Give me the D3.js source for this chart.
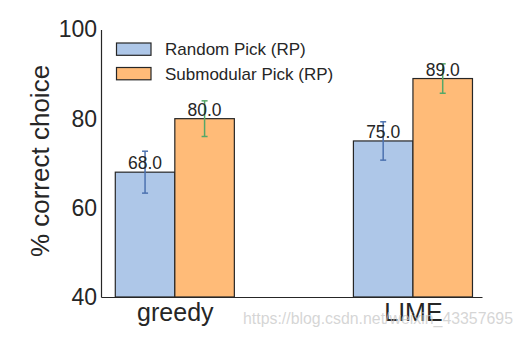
<!DOCTYPE html>
<html><head><meta charset="utf-8">
<script src="https://cdn.jsdelivr.net/npm/d3@7"></script>
<style>body{margin:0;background:#fff}svg{display:block}text{font-family:"Liberation Sans",Arial,sans-serif;fill:#262626}</style>
</head><body><svg id="c" width="523" height="338"></svg>
<script>
const categories = ["greedy", "LIME"];
const seriesNames = ["Random Pick (RP)", "Submodular Pick (RP)"];
const randomPick = [68.0, 75.0];
const submodularPick = [80.0, 89.0];
const randomErr = [4.7, 4.3];
const submodularErr = [4.0, 3.3];
const yTicks = [40, 60, 80, 100];
const watermark = "https://blog.csdn.net/weixin_43357695";

const fills = ["#aec7e8", "#ffbb78"];
const errColors = ["#4c72b0", "#55a868"];
const svg = d3.select("#c");
const x = d3.scaleLinear().domain([-0.31, 1.29]).range([101, 482]);
const y = d3.scaleLinear().domain([40, 100]).range([297, 29.5]);
const bw = 0.25;

const series = [randomPick, submodularPick];
const errs = [randomErr, submodularErr];

// bars
series.forEach((vals, s) => {
  const off = s === 0 ? -bw : 0;
  svg.append("g").selectAll("rect").data(vals).join("rect")
    .attr("x", (d, i) => x(i + off))
    .attr("width", x(bw) - x(0))
    .attr("y", d => y(d))
    .attr("height", d => y(40) - y(d))
    .attr("fill", fills[s]).attr("stroke", "#262626").attr("stroke-width", 1.2);
});
// error bars
series.forEach((vals, s) => {
  const off = s === 0 ? -bw / 2 : bw / 2;
  const g = svg.append("g").attr("stroke", errColors[s]).attr("stroke-width", 1.5);
  vals.forEach((v, i) => {
    const cx = x(i + off), e = errs[s][i];
    g.append("line").attr("x1", cx).attr("x2", cx).attr("y1", y(v + e)).attr("y2", y(v - e));
    g.append("line").attr("x1", cx - 3).attr("x2", cx + 3).attr("y1", y(v + e)).attr("y2", y(v + e));
    g.append("line").attr("x1", cx - 3).attr("x2", cx + 3).attr("y1", y(v - e)).attr("y2", y(v - e));
  });
});
// value labels
series.forEach((vals, s) => {
  const off = s === 0 ? -bw / 2 : bw / 2;
  svg.append("g").selectAll("text").data(vals).join("text")
    .attr("x", (d, i) => x(i + off)).attr("y", d => y(d) - 3)
    .attr("text-anchor", "middle").attr("font-size", 17.5)
    .text(d => d.toFixed(1));
});

// axes
const yAxis = d3.axisLeft(y).tickValues(yTicks).tickSize(0).tickPadding(4);
const gy = svg.append("g").attr("transform", "translate(101,0)").call(yAxis);
gy.select(".domain").attr("stroke", "#262626").attr("stroke-width", 1.2);
gy.selectAll("text").attr("font-size", 23).attr("fill", "#262626").style("font-family", '"Liberation Sans",Arial,sans-serif');

const xAxis = d3.axisBottom(x).tickValues([0, 1]).tickFormat(i => categories[i]).tickSize(0).tickPadding(6);
const gx = svg.append("g").attr("transform", "translate(0,297)").call(xAxis);
gx.select(".domain").attr("stroke", "#262626").attr("stroke-width", 1.2);
gx.selectAll("text").attr("font-size", 25).attr("fill", "#262626").style("font-family", '"Liberation Sans",Arial,sans-serif');

// y label
svg.append("text").attr("transform", "translate(49,161) rotate(-90)")
  .attr("text-anchor", "middle").attr("font-size", 26).text("% correct choice");

// legend
seriesNames.forEach((n, s) => {
  const ly = 43 + s * 24.5;
  svg.append("rect").attr("x", 116.5).attr("y", ly).attr("width", 34.5).attr("height", 12.3)
    .attr("fill", fills[s]).attr("stroke", "#262626").attr("stroke-width", 1.2);
  svg.append("text").attr("x", 165).attr("y", ly + 12).attr("font-size", 17).text(n);
});

// watermark
svg.append("text").attr("x", 243).attr("y", 324).attr("font-size", 17)
  .attr("textLength", 270).attr("lengthAdjust", "spacingAndGlyphs")
  .style("fill", "rgba(200,200,200,0.75)").text(watermark);
</script></body></html>
